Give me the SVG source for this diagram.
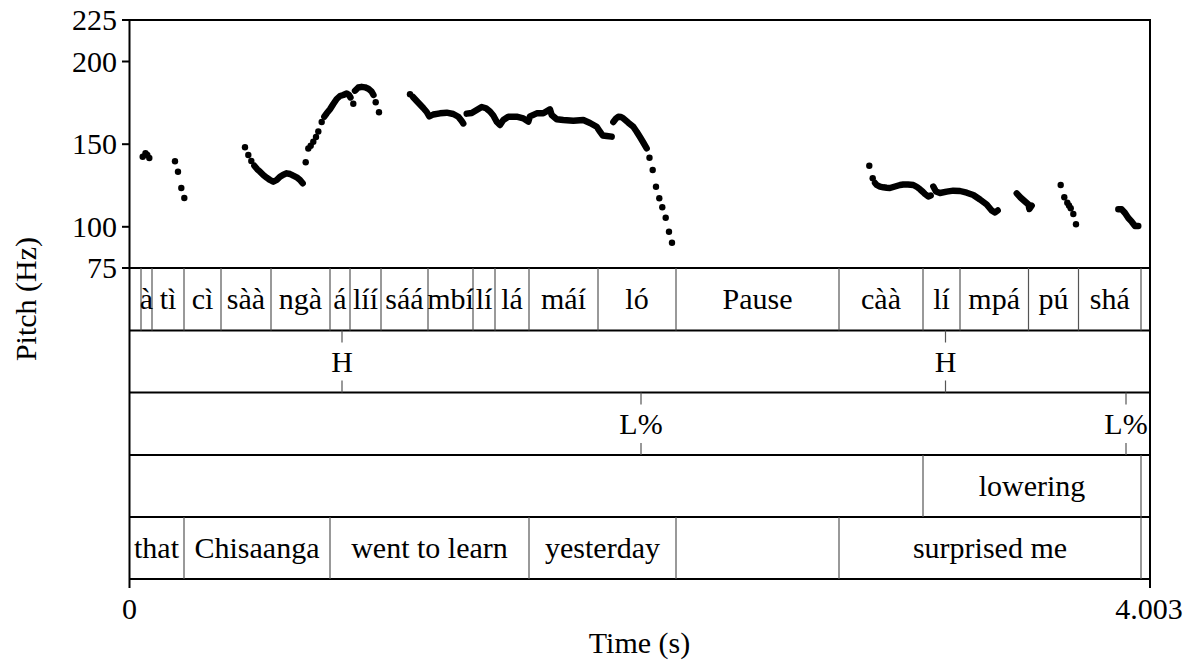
<svg xmlns="http://www.w3.org/2000/svg" width="1192" height="662" viewBox="0 0 1192 662">
<style>
.t{font-family:"Liberation Serif","Times New Roman",serif;font-size:30px;fill:#000}
.m{text-anchor:middle}
.e{text-anchor:end}
.ax{stroke:#000;stroke-width:2;fill:none}
.tier{stroke:#000;stroke-width:2}
.b{stroke:#555;stroke-width:1.2}
.pk{stroke:#555;stroke-width:1.2}
.d{fill:#000}
.r{fill:none;stroke:#000;stroke-width:6.4;stroke-linecap:round;stroke-linejoin:round}
</style>
<rect width="1192" height="662" fill="#fff"/>

<g id="frame">
  <line class="ax" x1="129" y1="20" x2="1151" y2="20"/>
  <line class="ax" x1="1150" y1="20" x2="1150" y2="588"/>
  <line class="ax" x1="129.5" y1="20" x2="129.5" y2="588"/>
  <line class="ax" x1="129" y1="579" x2="1151" y2="579"/>
  <g class="ax">
    <line x1="122" y1="20" x2="129" y2="20"/>
    <line x1="122" y1="61.5" x2="129" y2="61.5"/>
    <line x1="122" y1="144.2" x2="129" y2="144.2"/>
    <line x1="122" y1="226.8" x2="129" y2="226.8"/>
    <line x1="122" y1="268" x2="129" y2="268"/>
  </g>
</g>

<g id="axis-labels" class="t">
  <text class="e" x="117" y="30">225</text>
  <text class="e" x="117" y="71.5">200</text>
  <text class="e" x="117" y="154.2">150</text>
  <text class="e" x="117" y="236.8">100</text>
  <text class="e" x="117" y="278">75</text>
  <text class="m" transform="translate(36,299) rotate(-90)">Pitch (Hz)</text>
  <text class="m" x="129.5" y="619">0</text>
  <text class="m" x="1149" y="619">4.003</text>
  <text class="m" x="639.5" y="653">Time (s)</text>
</g>

<g id="pitch">
  <g class="d">
    <circle cx="142.7" cy="156.7" r="3.2"/><circle cx="145.5" cy="153.3" r="3.2"/><circle cx="147.3" cy="155" r="3.2"/><circle cx="149.3" cy="158" r="3.2"/>
    <circle cx="175" cy="161.3" r="3.2"/><circle cx="178" cy="171.7" r="3.2"/><circle cx="181.3" cy="188" r="3.2"/><circle cx="184.3" cy="198" r="3.2"/>
    <circle cx="245" cy="147.3" r="3.2"/><circle cx="248.3" cy="155" r="3.2"/><circle cx="251.3" cy="161" r="3.2"/>
    <circle cx="305.7" cy="162.3" r="3.2"/><circle cx="308.3" cy="148.5" r="3.2"/><circle cx="310.7" cy="145.7" r="3.2"/><circle cx="313.3" cy="141.7" r="3.2"/><circle cx="316" cy="137" r="3.2"/><circle cx="318.3" cy="131.5" r="3.2"/><circle cx="321.7" cy="122" r="3.2"/>
    <circle cx="353.3" cy="103.8" r="3.2"/>
    <circle cx="375.7" cy="102.3" r="3.2"/><circle cx="379" cy="112.3" r="3.2"/>
    <circle cx="410" cy="94.3" r="3.2"/>
    <circle cx="649.5" cy="157.7" r="3.2"/><circle cx="652.7" cy="170" r="3.2"/><circle cx="656" cy="186.7" r="3.2"/><circle cx="659.3" cy="198.3" r="3.2"/><circle cx="662.3" cy="207.3" r="3.2"/><circle cx="665.7" cy="217.7" r="3.2"/><circle cx="669" cy="231.7" r="3.2"/><circle cx="672" cy="242.7" r="3.2"/>
    <circle cx="869.3" cy="165.7" r="3.2"/><circle cx="872.7" cy="178.3" r="3.2"/>
    <circle cx="1060.7" cy="185" r="3.2"/><circle cx="1064.3" cy="197.3" r="3.2"/><circle cx="1067.3" cy="202.7" r="3.2"/><circle cx="1069" cy="205.5" r="3.2"/><circle cx="1070.7" cy="208.3" r="3.2"/><circle cx="1073.3" cy="214" r="3.2"/><circle cx="1076" cy="224.3" r="3.2"/>
  </g>
  <polyline class="r" points="254.3,165.7 257.3,169.3 260,171.7 263.3,175 266.7,177.7 270,180 273.3,181.7 276.7,180 280,176.7 283.3,174.7 286.7,173.3 290,174 293.3,175.7 296.7,177.3 300,180 302.7,183.3"/>
  <polyline class="r" points="324.3,116.7 326.7,113.3 330,109.3 333.3,104 336.7,99 340,96 343.3,95 346.7,93.5 349,95 350.5,97.5"/>
  <polyline class="r" points="355,90.7 358.3,87.5 361.7,86.8 365,87.3 368.3,88.7 371.7,91.7 373.5,95"/>
  <polyline class="r" points="413,97 416.7,101 420,104.5 423.3,108 426.7,112 429.3,116.5 433.3,114.5 440,113.3 446.7,112.7 453.3,114 458.3,116.7 461.7,121 463.3,123.5"/>
  <polyline class="r" points="466.7,113.7 471.7,113 476.7,110 481.7,107 486,108.3 490,111.5 493.3,115.5 496.7,121.7 500,125 503.3,120 508.3,116.7 516.7,116.7 523.3,118.3 528.3,121.7 530,116.3 536.7,113.3 543.3,113.3 550,109.3 551.7,115 556.7,119.3 563.3,120 573.3,120.7 583.3,120 590,123 596.7,126.7 600,131.7 602.7,135.5 606.7,136 611.7,136.7"/>
  <polyline class="r" points="613.3,122 616,118.5 618.3,116.7 621,117 623.3,118.3 628.3,122.7 633.3,126.7 636.7,131.7 640,137 643,142 646.7,148.3"/>
  <polyline class="r" points="875,183 876.7,185 880,186.7 883.3,187.3 886.7,187.7 890,188 893.3,187 896.7,186 900,185 903.3,184.5 908,184.5 913.3,185 917,187 920,189.3 923,192 925,194 928.3,196.5 930.7,195.5"/>
  <polyline class="r" points="933.3,186.5 936,191.5 940,193 946.7,191.7 953.3,190.7 960,191 966.7,192.7 973.3,195 980,199.5 986.7,204.5 991.7,210.5 995,212.5 997.7,210.5"/>
  <polyline class="r" points="1016.7,193.3 1020.5,197.5 1025,201.5 1028.5,204.5 1029.3,209 1031.7,205.7"/>
  <polyline class="r" points="1118.3,209.3 1121.7,209.3 1125,213 1128.3,218 1131.7,221.7 1135,226 1138.3,226"/>
</g>

<g id="tier-lines">
  <line class="tier" x1="129" y1="268" x2="1150" y2="268"/>
  <line class="tier" x1="129" y1="330.5" x2="1150" y2="330.5"/>
  <line class="tier" x1="129" y1="392.5" x2="1150" y2="392.5"/>
  <line class="tier" x1="129" y1="455" x2="1150" y2="455"/>
  <line class="tier" x1="129" y1="517" x2="1150" y2="517"/>
</g>

<g id="tier1-syllables">
  <g class="b">
    <line x1="141" y1="268" x2="141" y2="330.5"/><line x1="152" y1="268" x2="152" y2="330.5"/>
    <line x1="184" y1="268" x2="184" y2="330.5"/><line x1="221" y1="268" x2="221" y2="330.5"/>
    <line x1="271" y1="268" x2="271" y2="330.5"/><line x1="330" y1="268" x2="330" y2="330.5"/>
    <line x1="350" y1="268" x2="350" y2="330.5"/><line x1="381" y1="268" x2="381" y2="330.5"/>
    <line x1="428" y1="268" x2="428" y2="330.5"/><line x1="473" y1="268" x2="473" y2="330.5"/>
    <line x1="495" y1="268" x2="495" y2="330.5"/><line x1="529" y1="268" x2="529" y2="330.5"/>
    <line x1="598" y1="268" x2="598" y2="330.5"/><line x1="676" y1="268" x2="676" y2="330.5"/>
    <line x1="839" y1="268" x2="839" y2="330.5"/><line x1="923" y1="268" x2="923" y2="330.5"/>
    <line x1="960" y1="268" x2="960" y2="330.5"/><line x1="1028.5" y1="268" x2="1028.5" y2="330.5"/>
    <line x1="1078.5" y1="268" x2="1078.5" y2="330.5"/><line x1="1141" y1="268" x2="1141" y2="330.5"/>
  </g>
  <g class="t m">
    <text x="146.5" y="309">à</text>
    <text x="168" y="309">tì</text>
    <text x="202.5" y="309">cì</text>
    <text x="246" y="309">sàà</text>
    <text x="300.5" y="309">ngà</text>
    <text x="340" y="309">á</text>
    <text x="365.5" y="309">líí</text>
    <text x="404.5" y="309">sáá</text>
    <text x="450.5" y="309">mbí</text>
    <text x="484" y="309">lí</text>
    <text x="512" y="309">lá</text>
    <text x="563.5" y="309">máí</text>
    <text x="637" y="309">ló</text>
    <text x="757.5" y="309">Pause</text>
    <text x="881" y="309">càà</text>
    <text x="941.5" y="309">lí</text>
    <text x="994.2" y="309">mpá</text>
    <text x="1053.5" y="309">pú</text>
    <text x="1109.8" y="309">shá</text>
  </g>
</g>

<g id="tier2-tones">
  <g class="pk">
    <line x1="342" y1="330.5" x2="342" y2="342.5"/><line x1="342" y1="380.5" x2="342" y2="392.5"/>
    <line x1="945.5" y1="330.5" x2="945.5" y2="342.5"/><line x1="945.5" y1="380.5" x2="945.5" y2="392.5"/>
  </g>
  <g class="t m">
    <text x="342" y="371.5">H</text>
    <text x="945.5" y="371.5">H</text>
  </g>
</g>

<g id="tier3-boundary-tones">
  <g class="pk">
    <line x1="641" y1="392.5" x2="641" y2="404.5"/><line x1="641" y1="443" x2="641" y2="455"/>
    <line x1="1126" y1="392.5" x2="1126" y2="404.5"/><line x1="1126" y1="443" x2="1126" y2="455"/>
  </g>
  <g class="t m">
    <text x="641" y="433.5">L%</text>
    <text x="1126" y="433.5">L%</text>
  </g>
</g>

<g id="tier4-lowering">
  <g class="b">
    <line x1="923" y1="455" x2="923" y2="517"/><line x1="1141" y1="455" x2="1141" y2="517"/>
  </g>
  <text class="t m" x="1032" y="495.5">lowering</text>
</g>

<g id="tier5-words">
  <g class="b">
    <line x1="184" y1="517" x2="184" y2="579"/><line x1="330" y1="517" x2="330" y2="579"/>
    <line x1="529" y1="517" x2="529" y2="579"/><line x1="676" y1="517" x2="676" y2="579"/>
    <line x1="839" y1="517" x2="839" y2="579"/><line x1="1141" y1="517" x2="1141" y2="579"/>
  </g>
  <g class="t m">
    <text x="156.5" y="557.5">that</text>
    <text x="257" y="557.5">Chisaanga</text>
    <text x="429.5" y="557.5">went to learn</text>
    <text x="602.5" y="557.5">yesterday</text>
    <text x="990" y="557.5">surprised me</text>
  </g>
</g>
</svg>
